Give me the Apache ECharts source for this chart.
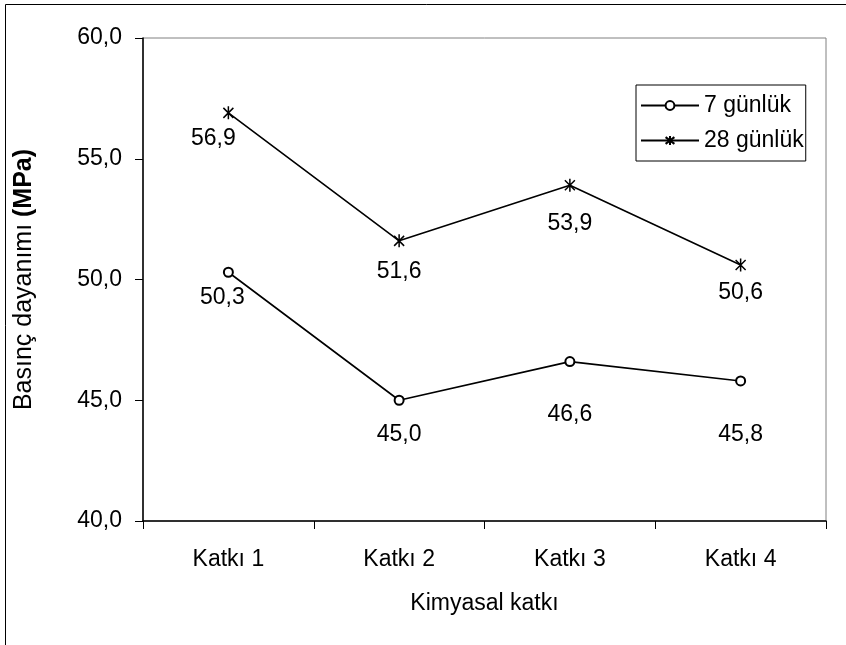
<!DOCTYPE html>
<html><head><meta charset="utf-8">
<script src="https://cdn.jsdelivr.net/npm/echarts@6/dist/echarts.min.js"></script>
<style>html,body{margin:0;padding:0;background:#fff}#c{width:846px;height:645px}</style>
</head><body><div id="c"></div>
<script>
const categories = ['Katkı 1', 'Katkı 2', 'Katkı 3', 'Katkı 4'];
const gun7 = [50.3, 45.0, 46.6, 45.8];
const gun28 = [56.9, 51.6, 53.9, 50.6];
const seriesNames = ['7 günlük', '28 günlük'];
const yTicks = [40, 45, 50, 55, 60];

// label placement (style only): [dx, dy] offsets of each value label
const labelOffset7 = [[-6, 8], [0, 17], [0, 36], [0, 37]];
const labelOffset28 = [[-15, 7], [0, 12], [0, 20], [0, 9]];

const FONT = '"Liberation Sans", Arial, sans-serif';
const FS = 23;
const fmt = v => v.toFixed(1).replace('.', ',');
const star = 'path://M0,0L10,10M10,0L0,10M5,-1.5L5,11.5';

function withLabels(values, offsets) {
  return values.map((v, i) => ({value: v, label: {offset: offsets[i]}}));
}

const chart = echarts.init(document.getElementById('c'), null, {renderer: 'canvas'});
chart.setOption({
  backgroundColor: '#fff',
  animation: false,
  textStyle: {fontFamily: FONT, color: '#000'},
  graphic: [{
    type: 'rect', left: 3, top: 2, shape: {x: 0, y: 0, width: 1000, height: 1000},
    style: {fill: 'none', stroke: '#000', lineWidth: 1}, silent: true, z: -1
  }],
  grid: {left: 143, top: 38, right: 20, bottom: 124, show: true, borderColor: '#808080', borderWidth: 1},
  legend: {
    orient: 'vertical', left: 636, top: 85, itemWidth: 58, itemHeight: 11, itemGap: 12,
    padding: [9, 2, 9, 4], borderColor: '#000', borderWidth: 1,
    textStyle: {fontFamily: FONT, fontSize: FS, color: '#000'},
    data: seriesNames
  },
  xAxis: {
    type: 'category', data: categories, boundaryGap: true,
    axisLine: {lineStyle: {color: '#000', width: 1.5}},
    axisTick: {show: true, length: 8, lineStyle: {color: '#000'}},
    axisLabel: {fontFamily: FONT, fontSize: FS, color: '#000', margin: 27},
    name: 'Kimyasal katkı', nameLocation: 'middle', nameGap: 71,
    nameTextStyle: {fontFamily: FONT, fontSize: FS, color: '#000'}
  },
  yAxis: {
    type: 'value', min: yTicks[0], max: yTicks[yTicks.length - 1], interval: 5,
    splitLine: {show: false},
    axisLine: {show: true, lineStyle: {color: '#000', width: 1.5}},
    axisTick: {show: true, length: 8, lineStyle: {color: '#000'}},
    axisLabel: {fontFamily: FONT, fontSize: FS, color: '#000', margin: 21, formatter: v => fmt(v)},
    name: '{a|Basınç dayanımı }{b|(MPa)}', nameLocation: 'middle', nameGap: 106,
    nameTextStyle: {
      rich: {
        a: {fontFamily: FONT, fontSize: 25, color: '#000'},
        b: {fontFamily: FONT, fontSize: 25, fontWeight: 'bold', color: '#000'}
      }
    }
  },
  series: [
    {
      name: seriesNames[0], type: 'line', data: withLabels(gun7, labelOffset7),
      symbol: 'emptyCircle', symbolSize: 9,
      lineStyle: {color: '#000', width: 1.6},
      itemStyle: {color: '#000', borderColor: '#000', borderWidth: 1.2},
      label: {show: true, position: 'bottom', distance: 0, fontFamily: FONT, fontSize: FS, color: '#000', formatter: p => fmt(p.value)}
    },
    {
      name: seriesNames[1], type: 'line', data: withLabels(gun28, labelOffset28),
      symbol: star, symbolSize: 13, symbolKeepAspect: true,
      lineStyle: {color: '#000', width: 1.6},
      itemStyle: {color: '#000', borderColor: '#000', borderWidth: 1.5},
      label: {show: true, position: 'bottom', distance: 0, fontFamily: FONT, fontSize: FS, color: '#000', formatter: p => fmt(p.value)}
    }
  ]
});
</script></body></html>
